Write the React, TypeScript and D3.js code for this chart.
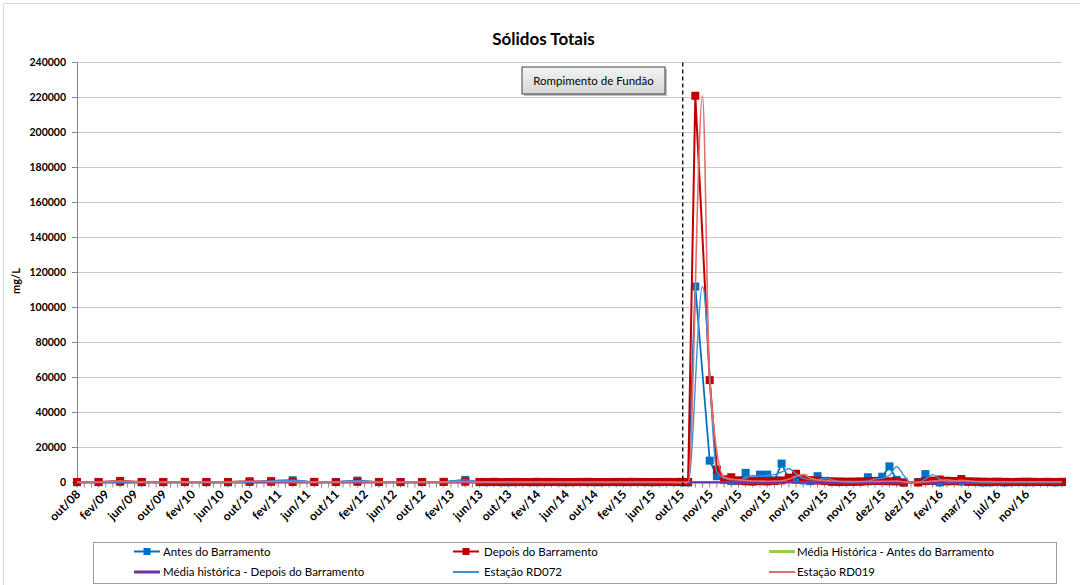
import React from 'react';
import * as d3 from 'd3';

// Sólidos Totais (mg/L) — estações antes e depois do barramento
const W = 1080;
const H = 585;
const CATEGORY_COUNT = 138; // one category per sampling row
const LABEL_STEP = 4;

const axisLabels = [
  'out/08', 'fev/09', 'jun/09', 'out/09', 'fev/10', 'jun/10', 'out/10', 'fev/11',
  'jun/11', 'out/11', 'fev/12', 'jun/12', 'out/12', 'fev/13', 'jun/13', 'out/13',
  'fev/14', 'jun/14', 'out/14', 'fev/15', 'jun/15', 'out/15', 'nov/15', 'nov/15',
  'nov/15', 'nov/15', 'nov/15', 'nov/15', 'dez/15', 'dez/15', 'fev/16', 'mar/16',
  'jul/16', 'nov/16',
];

const yTicks = [0, 20000, 40000, 60000, 80000, 100000, 120000, 140000, 160000, 180000, 200000, 220000, 240000];

type Pt = [number, number]; // [category index, mg/L]

const antesDoBarramento: Pt[] = [
  [0, 150], [3, 200], [6, 300], [9, 150], [12, 200], [15, 250], [18, 200], [21, 150], [24, 300],
  [27, 900], [30, 1300], [33, 250], [36, 300], [39, 1100], [42, 200], [45, 200], [48, 250], [51, 300], [54, 1500],
  [56, 200], [57, 150], [58, 250], [59, 200], [60, 150], [61, 200], [62, 250], [63, 200], [64, 150], [65, 200],
  [66, 250], [67, 200], [68, 150], [69, 200], [70, 250], [71, 200], [72, 150], [73, 200], [74, 250], [75, 200],
  [76, 150], [77, 200], [78, 250], [79, 200], [80, 150], [81, 200], [82, 250], [83, 200], [84, 150], [85, 0],
  [86, 112000], [88, 12500], [89, 3600], [90, 1500], [91, 800], [92, 1000], [93, 5500], [94, 1200], [95, 4500],
  [96, 4500], [97, 1200], [98, 10800], [99, 2000], [100, 1500], [101, 1200], [102, 800], [103, 3600], [104, 900],
  [105, 300], [106, 200], [107, 300], [108, 500], [109, 600], [110, 3000], [111, 900], [112, 3300], [113, 9200],
  [114, 1500], [115, 0], [117, 300], [118, 4800], [119, 900], [120, 0], [121, 600], [122, 800], [123, 500],
  [124, 300], [125, 200], [126, 0], [127, 100], [128, 300], [129, 0], [130, 200], [131, 300], [132, 100],
  [133, 200], [134, 300], [135, 200], [136, 100], [137, 200],
];

const depoisDoBarramento: Pt[] = [
  [0, 300], [3, 250], [6, 900], [9, 300], [12, 250], [15, 350], [18, 300], [21, 250], [24, 700],
  [27, 400], [30, 300], [33, 350], [36, 250], [39, 400], [42, 300], [45, 250], [48, 300], [51, 350], [54, 400],
  [56, 350], [57, 300], [58, 400], [59, 250], [60, 300], [61, 350], [62, 300], [63, 250], [64, 400], [65, 300],
  [66, 350], [67, 300], [68, 250], [69, 300], [70, 350], [71, 400], [72, 300], [73, 250], [74, 300], [75, 350],
  [76, 300], [77, 400], [78, 350], [79, 300], [80, 250], [81, 300], [82, 350], [83, 300], [84, 400], [85, 300],
  [86, 221000], [88, 58500], [89, 7400], [90, 1800], [91, 3000], [92, 1200], [93, 700], [94, 500], [95, 800],
  [96, 600], [97, 900], [98, 1200], [99, 2800], [100, 5000], [101, 2300], [102, 1400], [103, 1100], [104, 900],
  [105, 700], [106, 600], [107, 500], [108, 400], [109, 500], [110, 700], [111, 900], [112, 800], [113, 700],
  [114, 600], [115, 0], [117, 0], [118, 800], [119, 1100], [120, 1700], [121, 1000], [122, 800], [123, 2000],
  [124, 700], [125, 600], [126, 500], [127, 400], [128, 500], [129, 400], [130, 300], [131, 400], [132, 500],
  [133, 400], [134, 300], [135, 400], [136, 300], [137, 400],
];

const estacaoRD072: Pt[] = [
  [0, 150], [3, 200], [6, 300], [9, 150], [12, 200], [15, 250], [18, 200], [21, 150], [24, 300],
  [27, 900], [30, 1300], [33, 250], [36, 300], [39, 1100], [42, 200], [45, 200], [48, 250], [51, 300], [54, 1500],
  [56, 200], [64, 200], [72, 200], [80, 200], [85, 0],
  [87, 112000], [89, 6000], [90, 2500], [91, 1500], [92, 1500], [93, 2500], [94, 4000], [95, 3500], [96, 4000],
  [97, 4500], [98, 6000], [99, 8000], [100, 5000], [101, 2500], [102, 1500], [103, 1500], [104, 2500], [105, 1500],
  [106, 500], [107, 300], [108, 300], [109, 500], [110, 800], [111, 2000], [112, 2500], [113, 4000], [114, 9000],
  [115, 4000], [116, 0], [117, 0], [118, 2000], [119, 4500], [120, 2000], [121, 500], [122, 600], [123, 800],
  [124, 600], [125, 400], [127, 300], [129, 200], [131, 200], [133, 200], [135, 200], [137, 200],
];

const estacaoRD019: Pt[] = [
  [0, 300], [3, 250], [6, 900], [9, 300], [12, 250], [15, 350], [18, 300], [21, 250], [24, 700],
  [27, 400], [30, 300], [33, 350], [36, 250], [39, 400], [42, 300], [45, 250], [48, 300], [51, 350], [54, 400],
  [56, 300], [64, 300], [72, 300], [80, 300], [85, 0],
  [87, 221000], [88, 58500], [90, 3000], [91, 2000], [92, 1500], [93, 1200], [94, 900], [95, 800], [96, 700],
  [97, 800], [98, 1000], [99, 1800], [100, 3500], [101, 4500], [102, 2500], [103, 1500], [104, 1200], [105, 900],
  [106, 700], [108, 600], [110, 600], [112, 700], [114, 800], [115, 400], [116, 0], [117, 100], [118, 400],
  [119, 800], [120, 1200], [121, 1500], [122, 1000], [123, 1200], [124, 1000], [125, 600], [127, 500], [129, 400],
  [131, 400], [133, 400], [135, 400], [137, 400],
];

const mediaHistoricaAntes = 150;
const mediaHistoricaDepois = 200;
const rompimentoCategory = 84.25;

const COLORS = {
  antes: '#0070C0',
  depois: '#C00000',
  mediaAntes: '#92D050',
  mediaDepois: '#7030A0',
  rd072: '#3C92DA',
  rd019: '#E46C6C',
};

const FONT = "Lato, 'Open Sans', 'Liberation Sans', sans-serif";

const plot = { left: 77, right: 1062, top: 62.5, bottom: 482.5 };

export default function App() {
  const x = d3.scaleLinear().domain([0, CATEGORY_COUNT - 1]).range([plot.left, plot.right]);
  const y = d3.scaleLinear().domain([0, 240000]).range([plot.bottom, plot.top]);

  const straight = d3.line<Pt>().x((d) => x(d[0])).y((d) => y(d[1]));
  const smooth = d3
    .line<Pt>()
    .x((d) => x(d[0]))
    .y((d) => y(d[1]))
    .curve(d3.curveMonotoneX);

  const categories = d3.range(CATEGORY_COUNT);
  const MK = 8;

  const markers = (data: Pt[], color: string) =>
    data.map((d, i) => (
      <rect key={i} x={x(d[0]) - MK / 2} y={y(d[1]) - MK / 2} width={MK} height={MK} fill={color} />
    ));

  const legendRows = [
    [
      { label: 'Antes do Barramento', color: COLORS.antes, marker: true, w: 2, sx: 134, tx: 163 },
      { label: 'Depois do Barramento', color: COLORS.depois, marker: true, w: 2, sx: 453, tx: 484 },
      { label: 'Média Histórica - Antes do Barramento', color: COLORS.mediaAntes, marker: false, w: 3, sx: 769, tx: 797 },
    ],
    [
      { label: 'Média histórica - Depois do Barramento', color: COLORS.mediaDepois, marker: false, w: 3, sx: 134, tx: 163 },
      { label: 'Estação RD072', color: COLORS.rd072, marker: false, w: 2, sx: 453, tx: 484 },
      { label: 'Estação RD019', color: COLORS.rd019, marker: false, w: 2, sx: 769, tx: 797 },
    ],
  ];
  const legendY = [551.5, 572];

  return (
    <svg
      width={W}
      height={H}
      viewBox={`0 0 ${W} ${H}`}
      style={{ position: 'absolute', left: 0, top: 0, background: '#fff' }}
      fontFamily={FONT}
    >
      <rect x={0} y={0} width={W} height={H} fill="#fff" />
      <rect x={3.5} y={3.5} width={W + 10} height={H + 10} fill="none" stroke="#D9D9D9" strokeWidth={1} />

      {/* title */}
      <text x={543.5} y={45} textAnchor="middle" fontSize={17} fontWeight={700} fill="#000">
        Sólidos Totais
      </text>

      {/* gridlines */}
      {yTicks.slice(1).map((t) => (
        <line key={t} x1={plot.left} x2={plot.right} y1={y(t)} y2={y(t)} stroke="#C9C9C9" strokeWidth={1} />
      ))}

      {/* y axis */}
      <line x1={plot.left + 0.5} x2={plot.left + 0.5} y1={plot.top} y2={plot.bottom} stroke="#878787" />
      {yTicks.map((t) => (
        <g key={t}>
          <line x1={plot.left - 5} x2={plot.left} y1={y(t)} y2={y(t)} stroke="#878787" />
          <text x={66} y={y(t)} dy="0.35em" textAnchor="end" fontSize={10.5} fontWeight={700} fill="#000">
            {t}
          </text>
        </g>
      ))}
      <text transform={`translate(20, 281) rotate(-90)`} textAnchor="middle" fontSize={11} fontWeight={700} fill="#000">
        mg/L
      </text>

      {/* x axis */}
      <line x1={plot.left} x2={plot.right} y1={plot.bottom + 0.5} y2={plot.bottom + 0.5} stroke="#878787" />
      {categories.map((c) => (
        <line key={c} x1={x(c)} x2={x(c)} y1={plot.bottom} y2={plot.bottom + 5} stroke="#878787" />
      ))}
      {axisLabels.map((lab, i) => (
        <text
          key={i}
          transform={`translate(${x(i * LABEL_STEP) - 2}, 489) rotate(-45)`}
          dy="0.72em"
          textAnchor="end"
          fontSize={12}
          fontWeight={700}
          fill="#000"
        >
          {lab}
        </text>
      ))}

      {/* series */}
      <path d={straight(antesDoBarramento) ?? ''} fill="none" stroke={COLORS.antes} strokeWidth={1.75} />
      {markers(antesDoBarramento, COLORS.antes)}
      <path d={straight(depoisDoBarramento) ?? ''} fill="none" stroke={COLORS.depois} strokeWidth={2} />
      {markers(depoisDoBarramento, COLORS.depois)}
      <line
        x1={x(0)}
        x2={x(CATEGORY_COUNT - 1)}
        y1={y(mediaHistoricaAntes)}
        y2={y(mediaHistoricaAntes)}
        stroke={COLORS.mediaAntes}
        strokeWidth={2}
      />
      <line
        x1={x(0)}
        x2={x(CATEGORY_COUNT - 1)}
        y1={y(mediaHistoricaDepois)}
        y2={y(mediaHistoricaDepois)}
        stroke={COLORS.mediaDepois}
        strokeWidth={2}
      />
      <path d={smooth(estacaoRD072) ?? ''} fill="none" stroke={COLORS.rd072} strokeWidth={1.4} />
      <path d={smooth(estacaoRD019) ?? ''} fill="none" stroke={COLORS.rd019} strokeWidth={1.6} />

      {/* rompimento marker */}
      <line
        x1={x(rompimentoCategory)}
        x2={x(rompimentoCategory)}
        y1={plot.top}
        y2={plot.bottom + 7}
        stroke="#000"
        strokeWidth={1.3}
        strokeDasharray="4 3"
      />
      <rect x={524} y={69} width={143} height={27} fill="#9A9A9A" opacity={0.6} />
      <defs>
        <linearGradient id="boxFill" x1="0" y1="0" x2="0" y2="1">
          <stop offset="0" stopColor="#F4F4F4" />
          <stop offset="1" stopColor="#D6D6D6" />
        </linearGradient>
      </defs>
      <rect x={522} y={67} width={143} height={27} fill="url(#boxFill)" stroke="#404040" strokeWidth={1} />
      <text x={593.5} y={81} dy="0.35em" textAnchor="middle" fontSize={11.5} fill="#000">
        Rompimento de Fundão
      </text>

      {/* legend */}
      <rect x={93.5} y={542.5} width={963} height={41} fill="#fff" stroke="#9C9C9C" strokeWidth={1} />
      {legendRows.map((row, r) =>
        row.map((item) => (
          <g key={item.label}>
            <line
              x1={item.sx}
              x2={item.sx + 26}
              y1={legendY[r]}
              y2={legendY[r]}
              stroke={item.color}
              strokeWidth={item.w}
            />
            {item.marker && (
              <rect x={item.sx + 13 - 3.5} y={legendY[r] - 3.5} width={7} height={7} fill={item.color} />
            )}
            <text x={item.tx} y={legendY[r]} dy="0.35em" fontSize={11.5} fill="#000">
              {item.label}
            </text>
          </g>
        )),
      )}
    </svg>
  );
}
